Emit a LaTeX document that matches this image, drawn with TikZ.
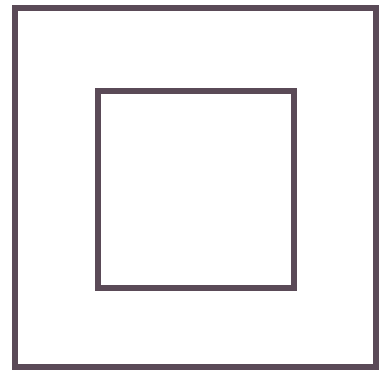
\documentclass[tikz,border=0pt]{standalone}
\definecolor{frame}{HTML}{5A4A57}
\tikzset{box/.style={draw=frame,line width=6pt,fill=none}}
\begin{document}
\begin{tikzpicture}[x=1pt,y=-1pt]
\useasboundingbox[fill=white] (0,0) rectangle (383,374);
\node[box,minimum width=361pt,minimum height=359pt,inner sep=0pt] (outer) at (195.5,187.5) {};
\node[box,minimum width=196pt,minimum height=196pt,inner sep=0pt] (inner) at (196,189.5) {};
\end{tikzpicture}
\end{document}
